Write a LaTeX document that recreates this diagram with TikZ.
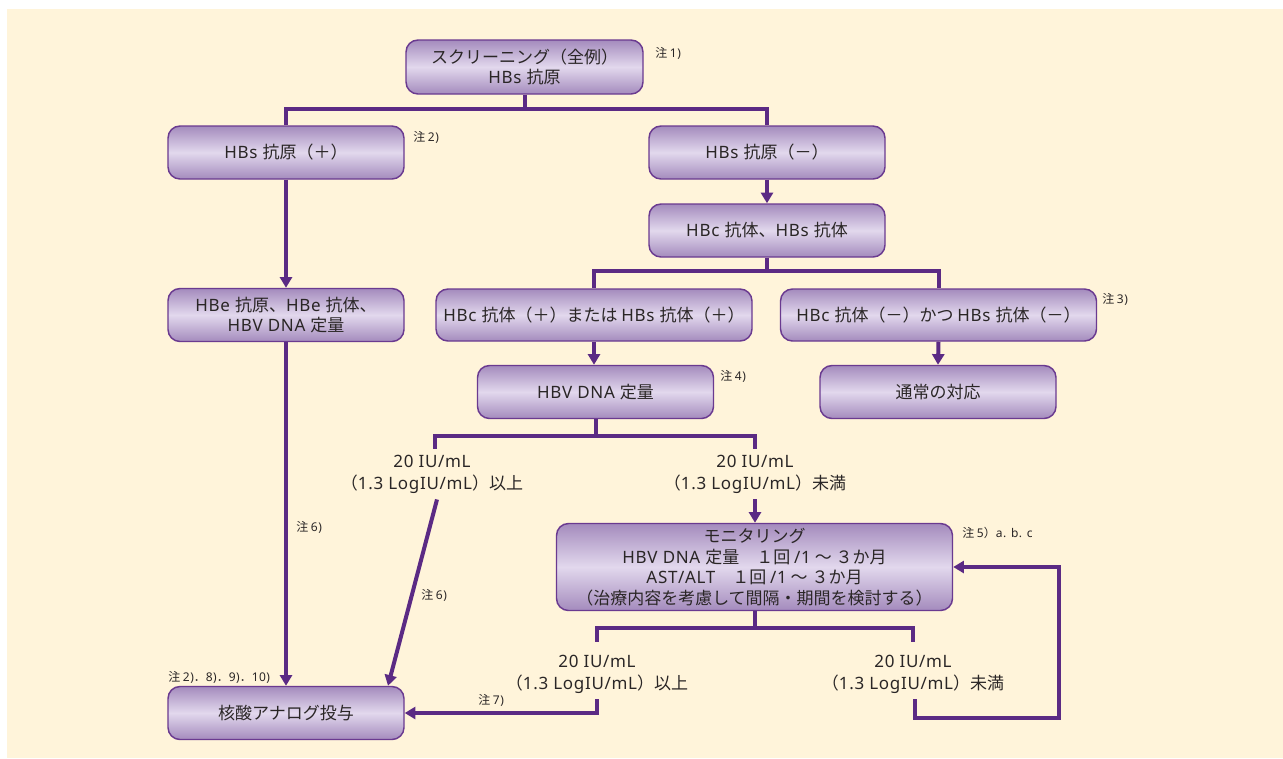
\documentclass[tikz,border=0pt]{standalone}
\usepackage{fontspec}
\setmainfont{Noto Sans CJK JP}
\newfontfamily\latf[LetterSpace=4]{Noto Sans}
\newcommand\LT[1]{{\latf #1}}
\usetikzlibrary{arrows.meta,calc}
\definecolor{cream}{HTML}{FFF4DA}
\definecolor{linecol}{HTML}{5B2A84}
\definecolor{boxborder}{HTML}{6A3A90}
\definecolor{boxdark}{HTML}{A48BBD}
\definecolor{boxlight}{HTML}{E2D8ED}
\definecolor{txt}{HTML}{2A2626}
\tikzset{
  box/.style={draw=boxborder, line width=1.1pt, rounded corners=9pt,
    top color=boxdark, bottom color=boxdark, middle color=boxlight,
    text=txt, align=center, inner sep=0pt,
    font=\fontsize{12.75pt}{15.5pt}\selectfont},
  stdbox/.style={box, minimum width=177pt, minimum height=39.75pt},
  widebox/.style={box, minimum width=237pt, minimum height=39pt},
  lbl/.style={text=txt, align=center, inner xsep=1pt, inner ysep=4.5pt,
    font=\fontsize{12.75pt}{16.5pt}\selectfont},
  note/.style={text=txt, anchor=west, inner sep=0pt,
    font=\fontsize{9pt}{10pt}\selectfont},
  conn/.style={draw=linecol, line width=3pt},
  arr/.style={conn, -{Triangle[length=8pt,width=9pt]}}
}
\begin{document}
\begin{tikzpicture}[x=0.75pt,y=-0.75pt]
\useasboundingbox (0,0) rectangle (1283,758);
\fill[cream] (7,9) rectangle (1283,758);

% boxes
\node[box, minimum width=177.75pt, minimum height=40.5pt] (top) at (524.5,67)
  {スクリーニング（全例）\\\LT{HBs }抗原};
\node[stdbox] (hbsp) at (286,152.5) {\LT{HBs }抗原（＋）};
\node[stdbox] (hbsm) at (767,152.5) {\LT{HBs }抗原（－）};
\node[stdbox] (hbcab) at (767,230.5) {\LT{HBc }抗体、\LT{HBs }抗体};
\node[stdbox] (hbe) at (286,315) {\LT{HBe }抗原、\LT{HBe }抗体、\\\LT{HBV DNA }定量};
\node[widebox] (orp) at (594,315) {\LT{HBc }抗体（＋）または \LT{HBs }抗体（＋）};
\node[widebox] (andm) at (938.5,315) {\LT{HBc }抗体（－）かつ \LT{HBs }抗体（－）};
\node[stdbox] (normal) at (938,392) {通常の対応};
\node[stdbox] (dna) at (595.5,392) {\LT{HBV DNA }定量};
\node[box, minimum width=297pt, minimum height=65.25pt] (mon) at (754.5,567)
  {モニタリング\\\LT{HBV DNA }定量　１回 \LT{/1} ～ ３か月\\\LT{AST/ALT}　１回 \LT{/1} ～ ３か月\\（治療内容を考慮して間隔・期間を検討する）};
\node[stdbox] (nuc) at (286,713) {核酸アナログ投与};

% threshold labels
\node[lbl] (lblA) at (432,474) {\LT{20 IU/mL}\\（\LT{1.3 LogIU/mL}）以上};
\node[lbl] (lblB) at (755,474) {\LT{20 IU/mL}\\（\LT{1.3 LogIU/mL}）未満};
\node[lbl] (lblC) at (597,674) {\LT{20 IU/mL}\\（\LT{1.3 LogIU/mL}）以上};
\node[lbl] (lblD) at (913,674) {\LT{20 IU/mL}\\（\LT{1.3 LogIU/mL}）未満};

% notes
\node[note] (n1) at (655,53) {注 \LT{1)}};
\node[note] (n2) at (413,137) {注 \LT{2)}};
\node[note] (n3) at (1102,299) {注 \LT{3)}};
\node[note] (n4) at (720,376) {注 \LT{4)}};
\node[note] (n5) at (962,533) {注 \LT{5}）\LT{a. b. c}};
\node[note] (n6a) at (296,527) {注 \LT{6)}};
\node[note] (n6b) at (421,595) {注 \LT{6)}};
\node[note] (n2b) at (168,677) {注 \LT{2)}．\LT{8)}．\LT{9)}．\LT{10)}};
\node[note] (n7) at (478,700) {注 \LT{7)}};

% connectors
\draw[conn] (top.south) -- ++(0,14) coordinate (j1);
\draw[conn] (j1) -| (hbsp.north);
\draw[conn] (j1) -| (hbsm.north);
\draw[arr] (hbsm.south) -- (hbcab.north);
\draw[conn] (hbcab.south) -- ++(0,13) coordinate (j2);
\draw[conn] (j2) -| (orp.north);
\draw[conn] (j2) -| (andm.north);
\draw[arr] (hbsp.south) -- (hbe.north);
\draw[arr] (orp.south) -- (dna.north -| orp.south);
\draw[arr] (andm.south) -- (normal.north);
\draw[arr] (hbe.south) -- (nuc.north);

\draw[conn] (dna.south) -- ++(0,17) coordinate (j3);
\draw[conn] (j3) -| ($(lblA.north)+(3,0)$);
\draw[conn] (j3) -| (lblB.north);
\draw[arr] (lblB.south) -- (lblB.south |- mon.north);
\draw[arr] ($(lblA.south)+(5,0)$) -- ($(nuc.north)+(102,0)$);

\draw[conn] (mon.south) -- ++(0,17) coordinate (j4);
\draw[conn] (j4) -| ($(lblC.north)+(0,-7)$);
\draw[conn] (j4) -| ($(lblD.north)+(0,-7)$);
\draw[arr] (lblC.south) |- (nuc.east);
\coordinate (loop) at (1059,718);
\draw[arr] ($(lblD.south)+(2,0)$) |- (loop) |- (mon.east);
\end{tikzpicture}
\end{document}
